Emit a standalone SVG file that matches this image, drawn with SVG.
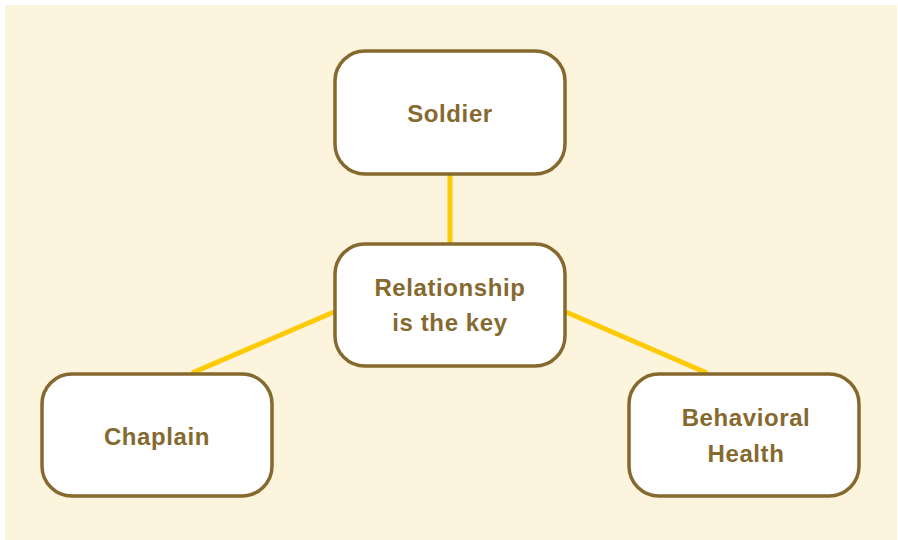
<svg xmlns="http://www.w3.org/2000/svg" width="898" height="540" viewBox="0 0 898 540">
<style>
.node{fill:#ffffff;stroke:#85692f;stroke-width:3.5}
.lbl{font-family:"Liberation Sans",Arial,sans-serif;font-weight:bold;font-size:24px;fill:#85692f;text-anchor:middle;letter-spacing:0.6px}
.edge{stroke:#fdcb05;stroke-width:5;fill:none}
</style>
<rect x="0" y="0" width="898" height="540" fill="#ffffff"/>
<rect x="5" y="5" width="892" height="535" fill="#fdf4dd"/>
<g id="connectors">
<line class="edge" x1="450" y1="175" x2="450" y2="244"/>
<line class="edge" x1="334" y1="312" x2="192" y2="373"/>
<line class="edge" x1="566" y1="312" x2="707" y2="373"/>
</g>
<g id="soldier">
<rect class="node" x="335" y="51" width="230" height="123" rx="30"/>
<text class="lbl" x="450" y="122">Soldier</text>
</g>
<g id="relationship">
<rect class="node" x="335" y="244" width="230" height="122" rx="30"/>
<text class="lbl" x="450" y="296">Relationship</text>
<text class="lbl" x="450" y="331">is the key</text>
</g>
<g id="chaplain">
<rect class="node" x="42" y="374" width="230" height="122" rx="30"/>
<text class="lbl" x="157" y="445">Chaplain</text>
</g>
<g id="behavioral">
<rect class="node" x="629" y="374" width="230" height="122" rx="30"/>
<text class="lbl" x="746" y="426">Behavioral</text>
<text class="lbl" x="746" y="462">Health</text>
</g>
</svg>
